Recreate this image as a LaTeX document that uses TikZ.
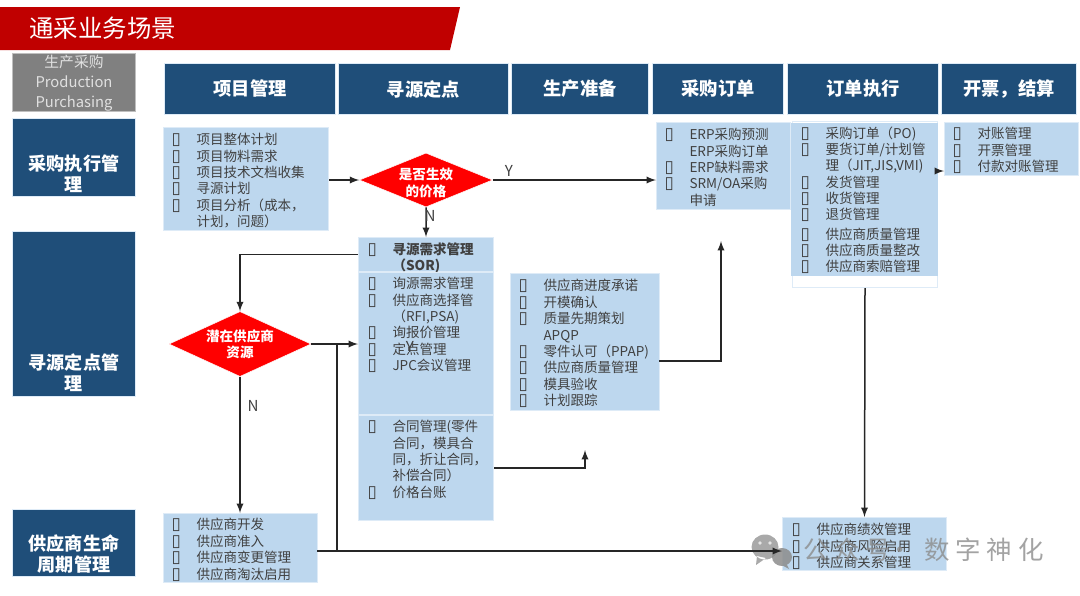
\documentclass[tikz,border=0pt]{standalone}
\usepackage{fontspec}
\usepackage{xcolor}
\setmainfont{Noto Sans CJK SC}
\newfontfamily\bulfont{DejaVu Sans}
\usetikzlibrary{arrows,positioning,calc,shapes.geometric}

\definecolor{headblue}{HTML}{1F4E79}
\definecolor{listblue}{HTML}{BDD7EE}
\definecolor{listedge}{HTML}{DEEBF7}
\definecolor{listtext}{HTML}{404040}
\definecolor{bannerred}{HTML}{C00000}
\definecolor{waterg}{HTML}{8C8C8C}

\newlength\pxu
\setlength\pxu{0.2mm}
\newcommand\bitem[1]{\leavevmode\makebox[25\pxu][l]{{\bulfont\fontsize{9.6}{9.3}\selectfont ▯}}#1\par}
\newcommand\citem[1]{\leavevmode\hspace*{25\pxu}#1\par}
% width, height, left pad, top pad, lines
\newcommand\blist[5]{\parbox[t][#2\pxu][t]{#1\pxu}{\fontsize{7.7}{9.3}\selectfont\leftskip=#3\pxu\lineskiplimit=-100pt\parindent=0pt\vspace*{#4\pxu}#5}}
% width, height, top pad, lines
\newcommand\blabel[4]{\parbox[t][#2\pxu][t]{#1\pxu}{\centering\fontsize{10.3}{12}\selectfont\lineskiplimit=-100pt\vspace*{#3\pxu}#4\par}}

\tikzset{
listbox/.style={fill=listblue,draw=listedge,line width=0.2mm,inner sep=0pt,anchor=north west,text=listtext},
head/.style={fill=headblue,draw=listedge,line width=0.2mm,inner sep=0pt,anchor=north west,text=white,font=\bfseries\fontsize{10.4}{12}\selectfont,minimum height=51*\pxu,minimum width=#1*\pxu},
side/.style={fill=headblue,draw=listedge,line width=0.2mm,inner sep=0pt,anchor=north west,text=white,font=\bfseries},
choice/.style={diamond,fill=red,draw=white,line width=0.1mm,inner sep=0pt,align=center,text=white,font=\bfseries\fontsize{7.7}{9.2}\selectfont},
branch/.style={text=listtext,inner sep=0pt,font=\fontsize{8.6}{10}\selectfont},
flow/.style={line width=0.3mm,color=black!85,-latex},
water/.style={text=waterg,opacity=0.8,inner sep=0pt,anchor=west,font=\fontsize{14.5}{16}\selectfont}
}

\begin{document}
\begin{tikzpicture}[x=0.2mm,y=-0.2mm]
\useasboundingbox (0,0) rectangle (1080,595);
\fill[bannerred] (0,7) -- (460,7) -- (450,50) -- (0,50) -- cycle;
\node[anchor=west,inner sep=0pt,text=white,font=\fontsize{13.9}{16}\selectfont] (title) at (29,28) {通采业务场景};
%left column
\node[fill=black!50,draw=black!25,line width=0.2mm,inner sep=0pt,anchor=north west,text=black!12] (prod) at (12,53)
{\parbox[t][58\pxu][t]{123\pxu}{\centering\fontsize{8.4}{11.2}\selectfont\lineskiplimit=-100pt\vspace*{2\pxu}生产采购\\Production\\Purchasing\par}};
\node[side] (exe) at (12,118) {\blabel{123}{78}{36}{采购执行管\\理}};
\node[side] (src) at (12,231) {\blabel{123}{165}{122}{寻源定点管\\理}};
\node[side] (sup) at (12,509) {\blabel{123}{67}{25}{供应商生命\\周期管理}};
%header row
\node[head=171] (hproj) at (164,63) {项目管理};
\node[head=170] (hsrc) at (338,63) {寻源定点};
\node[head=137] (hprep) at (511,63) {生产准备};
\node[head=131] (hord) at (652,63) {采购订单};
\node[head=151] (hexec) at (787,63) {订单执行};
\node[head=135] (hinv) at (941,63) {开票，结算};
%lists
\node[listbox] (proj) at (163,127) {\blist{165}{103}{8}{6}{\bitem{项目整体计划}\bitem{项目物料需求}\bitem{项目技术文档收集}\bitem{寻源计划}\bitem{项目分析（成本，}\citem{计划，问题）}}};
\node[listbox] (sorone) at (358,237) {\blist{135}{34}{9}{5}{\bfseries\bitem{寻源需求管理}\citem{（SOR)}}};
\node[listbox] (sortwo) at (358,272) {\blist{135}{142}{9}{5}{\bitem{询源需求管理}\bitem{供应商选择管}\citem{（RFI,PSA)}\bitem{询报价管理}\bitem{定点管理}\bitem{JPC会议管理}}};
\node[listbox] (sorthree) at (358,415) {\blist{135}{105}{9}{5}{\bitem{合同管理(零件}\citem{合同，模具合}\citem{同，折让合同，}\citem{补偿合同）}\bitem{价格台账}}};
\node[listbox] (prep) at (510,273) {\blist{149}{137}{8}{6}{\bitem{供应商进度承诺}\bitem{开模确认}\bitem{质量先期策划}\citem{APQP}\bitem{零件认可（PPAP)}\bitem{供应商质量管理}\bitem{模具验收}\bitem{计划跟踪}}};
\node[listbox] (erp) at (656,122) {\blist{134}{87}{8}{6}{\bitem{ERP采购预测}\citem{ERP采购订单}\bitem{ERP缺料需求}\bitem{SRM/OA采购}\citem{申请}}};
\node[draw=listedge,fill=white,line width=0.2mm,inner sep=0pt,anchor=north west,minimum width=145*\pxu,minimum height=166*\pxu] (execout) at (792,121) {};
\node[listbox,draw=none] (exec) at (790,122) {\blist{147}{153}{10}{4}{\bitem{采购订单（PO)}\bitem{要货订单/计划管}\citem{理（JIT,JIS,VMI)}\bitem{发货管理}\bitem{收货管理}\bitem{退货管理}\vspace{3\pxu}\bitem{供应商质量管理}\bitem{供应商质量整改}\bitem{供应商索赔管理}}};
\node[listbox] (inv) at (944,122) {\blist{134}{53}{8}{5}{\bitem{对账管理}\bitem{开票管理}\bitem{付款对账管理}}};
\node[listbox] (life) at (163,513) {\blist{154}{69}{8}{5}{\bitem{供应商开发}\bitem{供应商准入}\bitem{供应商变更管理}\bitem{供应商淘汰启用}}};
\node[listbox] (perf) at (782,517) {\blist{164}{53}{9}{6}{\bitem{供应商绩效管理}\bitem{供应商风险启用}\bitem{供应商关系管理}}};
%decisions
\node[choice,aspect=2.46,minimum width=26.6mm,minimum height=10.8mm] (price) at (426,180) {\raisebox{-8\pxu}[0pt][0pt]{是否生效}\\\raisebox{-8\pxu}[0pt][0pt]{的价格}};
\node[choice,aspect=2.18,minimum width=28.4mm,minimum height=13mm] (res) at (240,344) {潜在供应商\\资源};
%free ends
\coordinate (tee) at (337,344);
\coordinate (lifeout) at (317,551);
\coordinate (controut) at (494,468);
\coordinate (contrto) at (585,450);
\coordinate (prepout) at (659,361);
\coordinate (ordin) at (721,241);
\coordinate (invin) at (937,171);
%watermark icon
\fill[waterg,opacity=0.75] (765,547) ellipse (13.5 and 12.5) (757,556) -- (756,565) -- (766,558) -- cycle;
\fill[waterg,opacity=0.85] (782,557) ellipse (10 and 9) (786,563) -- (789,569) -- (780,564) -- cycle;
\fill[white,opacity=0.7] (760,543) circle (1.8) (770,543) circle (1.8);
%connectors
\path[flow]
(proj.east |- price.west) edge (price.west)
(price.east) edge (price.east -| erp.west)
(price.south) edge (sorone.north)
(res.south) edge (life.north -| res.south)
(res.east) edge (res.east -| sortwo.west)
(execout.south) edge (perf.north)
(invin) edge (invin -| inv.west)
(lifeout) edge (lifeout -| perf.west)
;
\draw[flow] (sorone.west) -| (res.north);
\draw[flow] (controut) -| (contrto);
\draw[flow] (prepout) -| (ordin);
\draw[line width=0.3mm,color=black!85] (tee) -- (tee |- lifeout);
%branch labels
\node[branch] (yprice) at (509,171) {Y};
\node[branch] (nprice) at (430,216) {N};
\node[branch] (yres) at (410,347) {Y};
\node[branch] (nres) at (253,406) {N};
%watermark text
\node[water] (wmark) at (803,550) {公\hspace{3.3pt}众\hspace{3.3pt}号\hspace{-2pt}·};
\node[water] (wname) at (924,550) {数\hspace{3.3pt}字\hspace{3.3pt}神\hspace{3.3pt}化};
\end{tikzpicture}
\end{document}
